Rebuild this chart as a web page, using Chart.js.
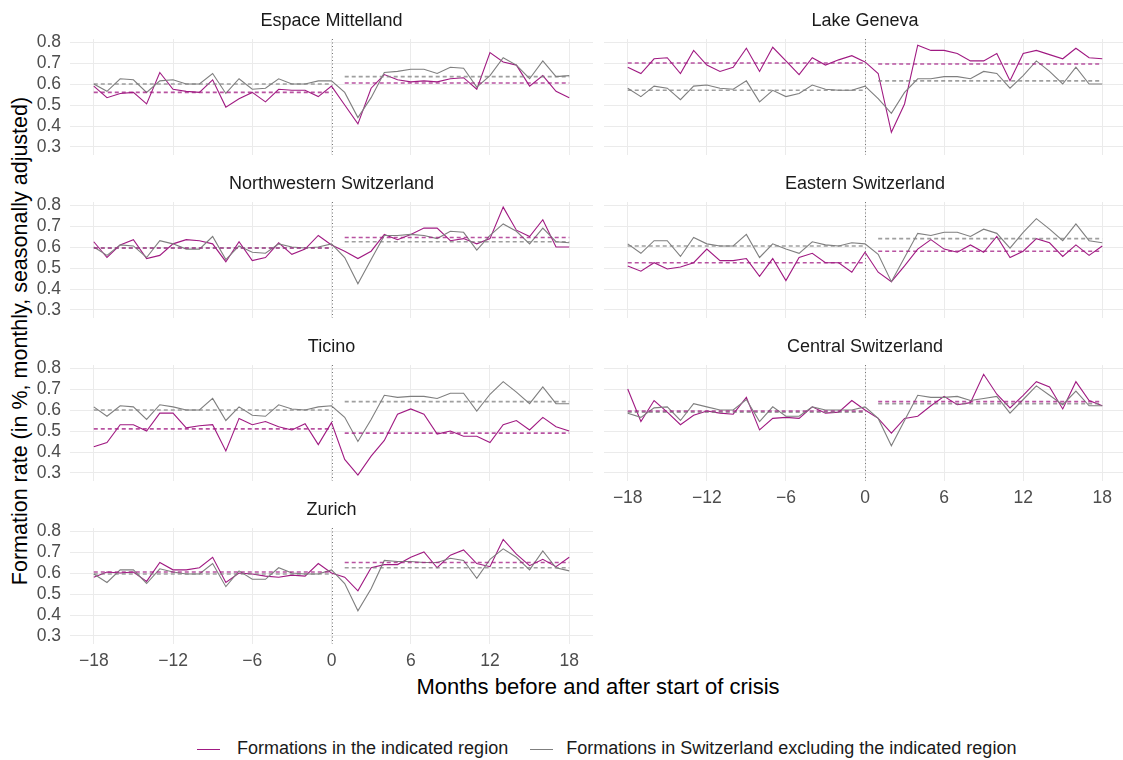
<!DOCTYPE html>
<html>
<head>
<meta charset="utf-8">
<title>Formation rate by region</title>
<script src="https://cdn.jsdelivr.net/npm/chart.js@4.4.0/dist/chart.umd.min.js"></script>
<style>
  html, body { margin: 0; padding: 0; background: #fff; overflow: hidden; }
  body { position: relative; width: 1123px; height: 760px; font-family: "Liberation Sans", Arial, sans-serif; }
  canvas { position: absolute; }
  .strip { position: absolute; font-size: 18px; line-height: 20px; color: #1a1a1a; text-align: center; }
  .ytitle { position: absolute; left: -280px; top: 329px; width: 600px; height: 24px; line-height: 24px;
            font-size: 21.5px; color: #000; text-align: center; transform: rotate(-90deg); }
  .xtitle { position: absolute; left: 70px; width: 1056px; top: 673px; line-height: 28px;
            font-size: 22px; color: #000; text-align: center; }
  .legend { position: absolute; top: 737px; left: 197px; font-size: 18px; line-height: 22px; color: #1a1a1a;
            white-space: nowrap; }
  .legend .key { display: inline-block; width: 23px; height: 1px; vertical-align: middle; margin-right: 17px; }
</style>
</head>
<body>
<div class="ytitle">Formation rate (in %, monthly, seasonally adjusted)</div>
<div class="xtitle">Months before and after start of crisis</div>
<div class="legend">
  <span class="key" style="background:#a01a82"></span>Formations in the indicated region<span class="key" style="background:#7f7f7f;margin-left:22px;margin-right:13px"></span>Formations in Switzerland excluding the indicated region
</div>
<script>
// months relative to start of crisis
const months = [-18, -17, -16, -15, -14, -13, -12, -11, -10, -9, -8, -7, -6, -5, -4, -3, -2, -1, 0,
                1, 2, 3, 4, 5, 6, 7, 8, 9, 10, 11, 12, 13, 14, 15, 16, 17, 18];
const crisisMonth = 0;
const xTicks = [-18, -12, -6, 0, 6, 12, 18];
const yTicks = [0.3, 0.4, 0.5, 0.6, 0.7, 0.8];

const regionNames = ['Espace Mittelland', 'Lake Geneva', 'Northwestern Switzerland', 'Eastern Switzerland',
                     'Ticino', 'Central Switzerland', 'Zurich'];

// formation rate in the region / in the rest of Switzerland
const espaceRegion = [0.59, 0.535, 0.555, 0.56, 0.505, 0.655, 0.575, 0.565, 0.56, 0.62, 0.49, 0.53, 0.56, 0.515, 0.575, 0.57, 0.57, 0.54, 0.59,
                      0.50, 0.41, 0.58, 0.645, 0.62, 0.61, 0.615, 0.61, 0.625, 0.63, 0.575, 0.75, 0.705, 0.69, 0.59, 0.64, 0.565, 0.535];
const espaceRest = [0.60, 0.565, 0.625, 0.62, 0.56, 0.615, 0.62, 0.60, 0.60, 0.65, 0.555, 0.625, 0.575, 0.58, 0.625, 0.60, 0.60, 0.615, 0.615,
                    0.56, 0.44, 0.535, 0.655, 0.66, 0.67, 0.67, 0.65, 0.68, 0.675, 0.585, 0.64, 0.725, 0.69, 0.625, 0.71, 0.635, 0.64];

const genevaRegion = [0.68, 0.65, 0.72, 0.725, 0.65, 0.76, 0.69, 0.66, 0.68, 0.77, 0.66, 0.775, 0.71, 0.645, 0.725, 0.69, 0.715, 0.735, 0.705,
                      0.65, 0.37, 0.505, 0.785, 0.76, 0.76, 0.745, 0.71, 0.71, 0.745, 0.615, 0.745, 0.76, 0.74, 0.72, 0.77, 0.725, 0.72];
const genevaRest = [0.58, 0.54, 0.59, 0.58, 0.525, 0.59, 0.595, 0.58, 0.575, 0.615, 0.515, 0.57, 0.54, 0.555, 0.595, 0.575, 0.57, 0.57, 0.59,
                    0.53, 0.46, 0.56, 0.625, 0.625, 0.635, 0.635, 0.625, 0.66, 0.65, 0.58, 0.64, 0.71, 0.66, 0.60, 0.68, 0.60, 0.60];

const northwestRegion = [0.625, 0.55, 0.61, 0.635, 0.545, 0.56, 0.615, 0.635, 0.63, 0.615, 0.53, 0.625, 0.535, 0.55, 0.62, 0.565, 0.59, 0.655, 0.61,
                         0.58, 0.545, 0.58, 0.66, 0.635, 0.66, 0.69, 0.69, 0.63, 0.64, 0.615, 0.64, 0.79, 0.68, 0.65, 0.73, 0.60, 0.60];
const northwestRest = [0.60, 0.56, 0.61, 0.605, 0.55, 0.63, 0.615, 0.59, 0.59, 0.65, 0.54, 0.605, 0.575, 0.57, 0.615, 0.60, 0.595, 0.60, 0.615,
                       0.55, 0.425, 0.54, 0.655, 0.655, 0.66, 0.655, 0.64, 0.675, 0.67, 0.585, 0.655, 0.71, 0.675, 0.615, 0.69, 0.625, 0.62];

const easternRegion = [0.51, 0.485, 0.525, 0.495, 0.505, 0.525, 0.59, 0.535, 0.535, 0.545, 0.46, 0.545, 0.44, 0.55, 0.57, 0.525, 0.525, 0.48, 0.575,
                       0.48, 0.435, 0.51, 0.59, 0.635, 0.59, 0.575, 0.61, 0.575, 0.65, 0.55, 0.58, 0.64, 0.62, 0.555, 0.61, 0.56, 0.605];
const easternRest = [0.615, 0.57, 0.63, 0.63, 0.555, 0.645, 0.615, 0.605, 0.605, 0.66, 0.55, 0.615, 0.59, 0.57, 0.625, 0.61, 0.605, 0.62, 0.615,
                     0.565, 0.435, 0.55, 0.665, 0.655, 0.67, 0.67, 0.65, 0.685, 0.665, 0.595, 0.67, 0.735, 0.685, 0.63, 0.71, 0.63, 0.62];

const ticinoRegion = [0.425, 0.445, 0.53, 0.53, 0.50, 0.585, 0.585, 0.515, 0.525, 0.53, 0.405, 0.56, 0.53, 0.545, 0.52, 0.505, 0.535, 0.435, 0.54,
                      0.365, 0.29, 0.38, 0.455, 0.58, 0.605, 0.58, 0.485, 0.50, 0.475, 0.475, 0.445, 0.53, 0.55, 0.505, 0.565, 0.52, 0.50];
const ticinoRest = [0.615, 0.57, 0.62, 0.615, 0.555, 0.625, 0.615, 0.60, 0.60, 0.655, 0.55, 0.615, 0.575, 0.57, 0.625, 0.605, 0.60, 0.615, 0.62,
                    0.565, 0.45, 0.555, 0.67, 0.66, 0.665, 0.665, 0.655, 0.68, 0.68, 0.595, 0.675, 0.735, 0.685, 0.63, 0.71, 0.63, 0.63];

const centralRegion = [0.70, 0.545, 0.645, 0.59, 0.53, 0.575, 0.595, 0.585, 0.58, 0.66, 0.505, 0.56, 0.565, 0.56, 0.615, 0.585, 0.59, 0.645, 0.60,
                       0.56, 0.49, 0.56, 0.57, 0.62, 0.665, 0.625, 0.635, 0.77, 0.675, 0.61, 0.67, 0.735, 0.71, 0.605, 0.735, 0.645, 0.62];
const centralRest = [0.585, 0.565, 0.61, 0.615, 0.55, 0.63, 0.615, 0.60, 0.60, 0.65, 0.545, 0.615, 0.57, 0.57, 0.615, 0.60, 0.60, 0.60, 0.615,
                     0.56, 0.43, 0.55, 0.67, 0.66, 0.66, 0.665, 0.645, 0.655, 0.665, 0.585, 0.65, 0.715, 0.67, 0.625, 0.69, 0.62, 0.62];

const zurichRegion = [0.58, 0.605, 0.60, 0.605, 0.56, 0.65, 0.615, 0.615, 0.625, 0.675, 0.555, 0.60, 0.595, 0.585, 0.58, 0.59, 0.585, 0.645, 0.60,
                      0.58, 0.515, 0.625, 0.64, 0.64, 0.675, 0.70, 0.625, 0.685, 0.71, 0.645, 0.63, 0.76, 0.69, 0.635, 0.665, 0.63, 0.675];
const zurichRest = [0.595, 0.555, 0.615, 0.615, 0.55, 0.62, 0.605, 0.595, 0.595, 0.645, 0.535, 0.61, 0.57, 0.57, 0.625, 0.60, 0.595, 0.595, 0.615,
                    0.55, 0.42, 0.525, 0.66, 0.655, 0.655, 0.65, 0.65, 0.67, 0.66, 0.575, 0.665, 0.715, 0.675, 0.615, 0.705, 0.625, 0.61];

// averages before / after the crisis (dashed lines), same order as regionNames
const meanBeforeRegion = [0.56, 0.70, 0.595, 0.525, 0.51, 0.595, 0.605];
const meanAfterRegion = [0.605, 0.695, 0.645, 0.58, 0.49, 0.64, 0.65];
const meanBeforeRest = [0.60, 0.57, 0.595, 0.605, 0.60, 0.59, 0.595];
const meanAfterRest = [0.635, 0.615, 0.625, 0.64, 0.64, 0.63, 0.625];

const regionSeries = [espaceRegion, genevaRegion, northwestRegion, easternRegion, ticinoRegion, centralRegion, zurichRegion];
const restSeries = [espaceRest, genevaRest, northwestRest, easternRest, ticinoRest, centralRest, zurichRest];

const purple = '#a01a82';
const grey = '#7f7f7f';
const tickFont = { family: '"Liberation Sans", Arial, sans-serif', size: 17.5 };

// panel layout
const rowStep = 163;
const padTop = 10;
const areaTop = 39;
const areaHeight = 116;
const columns = [
    { left: 0, yWidth: 70, width: 593 },
    { left: 600, yWidth: 4, width: 526 }
];

// dotted line at the start of the crisis
const crisisLine = {
    id: 'crisisLine',
    beforeDatasetsDraw(chart) {
        const { ctx, chartArea, scales } = chart;
        const x = Math.round(scales.x.getPixelForValue(crisisMonth)) + 0.5;
        ctx.save();
        ctx.strokeStyle = '#777';
        ctx.lineWidth = 1;
        ctx.setLineDash([1, 2.5]);
        ctx.beginPath();
        ctx.moveTo(x, chartArea.top);
        ctx.lineTo(x, chartArea.bottom);
        ctx.stroke();
        ctx.restore();
    }
};

function points(values) {
    return months.map((m, i) => ({ x: m, y: values[i] }));
}

function meanSegment(value, after) {
    const from = after ? months[months.indexOf(crisisMonth) + 1] : months[0];
    const to = after ? months[months.length - 1] : crisisMonth;
    return [{ x: from, y: value }, { x: to, y: value }];
}

function formatMonth(v) {
    return v < 0 ? '\u2212' + Math.abs(v) : String(v);
}

function drawPanel(idx) {
    const col = idx % 2;
    const row = Math.floor(idx / 2);
    const showX = (idx === 5 || idx === 6);
    const geo = columns[col];
    const xHeight = showX ? 30 : 4;

    const canvas = document.createElement('canvas');
    canvas.width = geo.width;
    canvas.height = padTop + areaHeight + xHeight;
    canvas.style.left = geo.left + 'px';
    canvas.style.top = (areaTop - padTop + row * rowStep) + 'px';
    document.body.appendChild(canvas);

    const strip = document.createElement('div');
    strip.className = 'strip';
    strip.textContent = regionNames[idx];
    strip.style.left = (geo.left + geo.yWidth) + 'px';
    strip.style.width = (geo.width - geo.yWidth) + 'px';
    strip.style.top = (10 + row * rowStep) + 'px';
    document.body.appendChild(strip);

    const dashStyle = { borderWidth: 1.6, borderDash: [4, 3], pointRadius: 0 };

    new Chart(canvas, {
        type: 'line',
        data: {
            datasets: [
                { ...dashStyle, data: meanSegment(meanBeforeRegion[idx], false), borderColor: 'rgba(160,26,130,0.75)' },
                { ...dashStyle, data: meanSegment(meanAfterRegion[idx], true), borderColor: 'rgba(160,26,130,0.75)' },
                { ...dashStyle, data: meanSegment(meanBeforeRest[idx], false), borderColor: 'rgba(127,127,127,0.75)' },
                { ...dashStyle, data: meanSegment(meanAfterRest[idx], true), borderColor: 'rgba(127,127,127,0.75)' },
                { data: points(restSeries[idx]), borderColor: grey, borderWidth: 1.1, pointRadius: 0 },
                { data: points(regionSeries[idx]), borderColor: purple, borderWidth: 1.1, pointRadius: 0 }
            ]
        },
        options: {
            responsive: false,
            animation: false,
            layout: { padding: { top: padTop, left: 0, right: 0, bottom: 0 } },
            plugins: { legend: { display: false }, tooltip: { enabled: false } },
            elements: { line: { tension: 0 } },
            scales: {
                x: {
                    type: 'linear',
                    min: -19.8,
                    max: 19.8,
                    afterBuildTicks: axis => { axis.ticks = xTicks.map(v => ({ value: v })); },
                    afterFit: s => { s.height = xHeight; s.paddingLeft = 0; s.paddingRight = 0; },
                    grid: { color: '#ebebeb', lineWidth: 1, drawTicks: false },
                    border: { display: false },
                    ticks: {
                        display: showX,
                        autoSkip: false,
                        padding: 7,
                        maxRotation: 0,
                        color: '#4d4d4d',
                        font: tickFont,
                        callback: v => formatMonth(v)
                    }
                },
                y: {
                    min: 0.2619,
                    max: 0.8143,
                    afterBuildTicks: axis => { axis.ticks = yTicks.map(v => ({ value: v })); },
                    afterFit: s => { s.width = geo.yWidth; s.paddingTop = 0; s.paddingBottom = 0; },
                    grid: { color: '#ebebeb', lineWidth: 1, drawTicks: false },
                    border: { display: false },
                    ticks: {
                        display: col === 0,
                        autoSkip: false,
                        padding: 9,
                        color: '#4d4d4d',
                        font: tickFont,
                        callback: v => v.toFixed(1)
                    }
                }
            }
        },
        plugins: [crisisLine]
    });
}

for (let i = 0; i < regionNames.length; i++) {
    drawPanel(i);
}
</script>
</body>
</html>
